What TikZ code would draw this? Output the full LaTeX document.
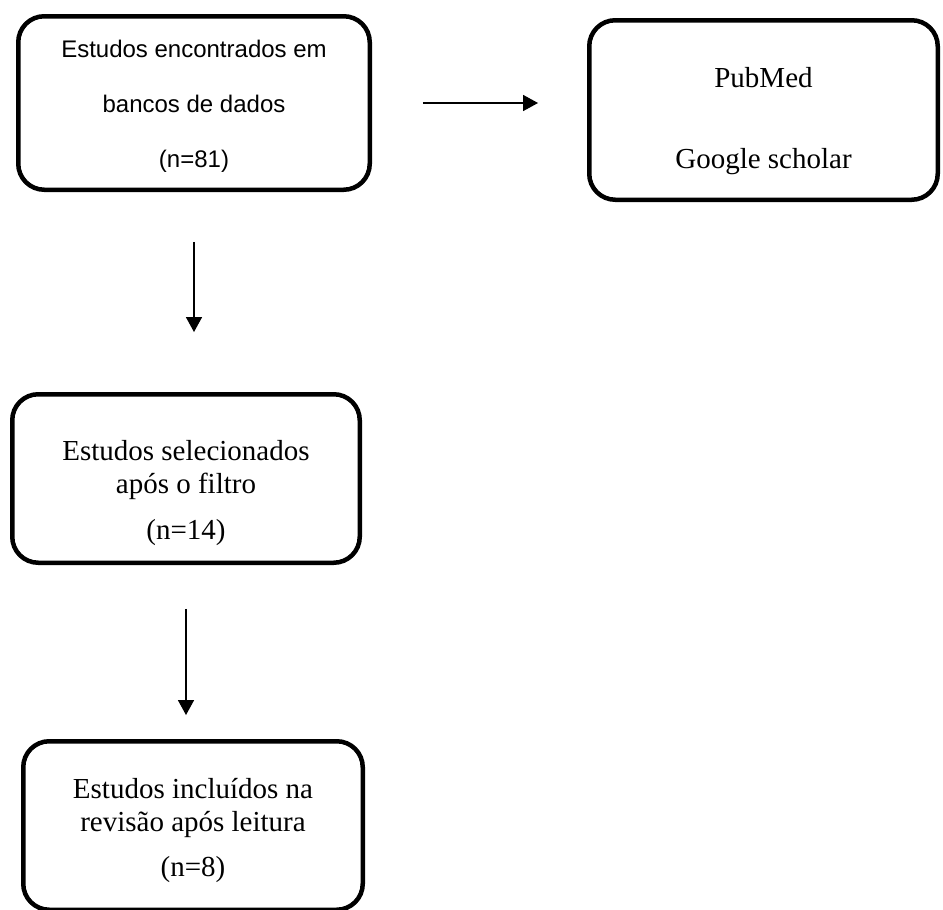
\documentclass[tikz,border=0pt]{standalone}
\usepackage{fontspec}
\setmainfont{Liberation Serif}
\newfontfamily\arialfont{Liberation Sans}
\usetikzlibrary{arrows.meta, calc, positioning}

% Hilfsstreben fuer die Textlage in den Kaesten
\newcommand{\strutcima}[1]{\rule{0pt}{#1}}
\newcommand{\strutbaixo}[1]{\rule[-#1]{0pt}{#1}}

\begin{document}
\begin{tikzpicture}[x=0.5pt, y=-0.5pt,
        caixa/.style={draw, line width=2.25pt, rounded corners=13pt,
                      align=center, inner sep=0pt, outer sep=0pt},
        serif14/.style={font=\fontsize{14.5}{16.5}\selectfont},
        arr/.style={-{Triangle[length=7.5pt, width=8pt]}, line width=0.7pt}
      ]
      \useasboundingbox (0,0) rectangle (943,910);

      % ── Zeile 1: Suche ──
      \node[caixa, minimum width=175.75pt, minimum height=86.75pt,
            font=\arialfont\fontsize{12}{27.5}\selectfont]        (enc) at (194,103)
        {\strutcima{14pt}Estudos encontrados em\\bancos de dados\\(n=81)\strutbaixo{5pt}};
      \node[caixa, minimum width=174.25pt, minimum height=89.75pt,
            font=\fontsize{14.5}{40.5}\selectfont]                (bases) at (763.5,110)
        {\strutcima{23pt}PubMed\\Google scholar\strutbaixo{5pt}};

      % ── Filter und Lektuere ──
      \node[caixa, serif14, minimum width=173.75pt, minimum height=84.25pt] (sel) at (186,478.5)
        {\strutcima{26pt}Estudos selecionados\\após o filtro\\[6.5pt](n=14)\strutbaixo{5pt}};
      \node[caixa, serif14, minimum width=169.75pt, minimum height=84.25pt] (inc) at (193,825.5)
        {\strutcima{17pt}Estudos incluídos na\\revisão após leitura\\[6pt](n=8)\strutbaixo{5pt}};

      % ── Pfeile ──
      \draw[arr, shorten <=26.6pt, shorten >=25.6pt] (enc.east) -- (enc.east -| bases.west);
      \draw[arr, shorten <=26.1pt, shorten >=31.1pt] (enc.south) -- (enc.south |- sel.north);
      \draw[arr, shorten <=23.1pt, shorten >=13.1pt] (sel.south) -- (sel.south |- inc.north);
    \end{tikzpicture}
\end{document}
